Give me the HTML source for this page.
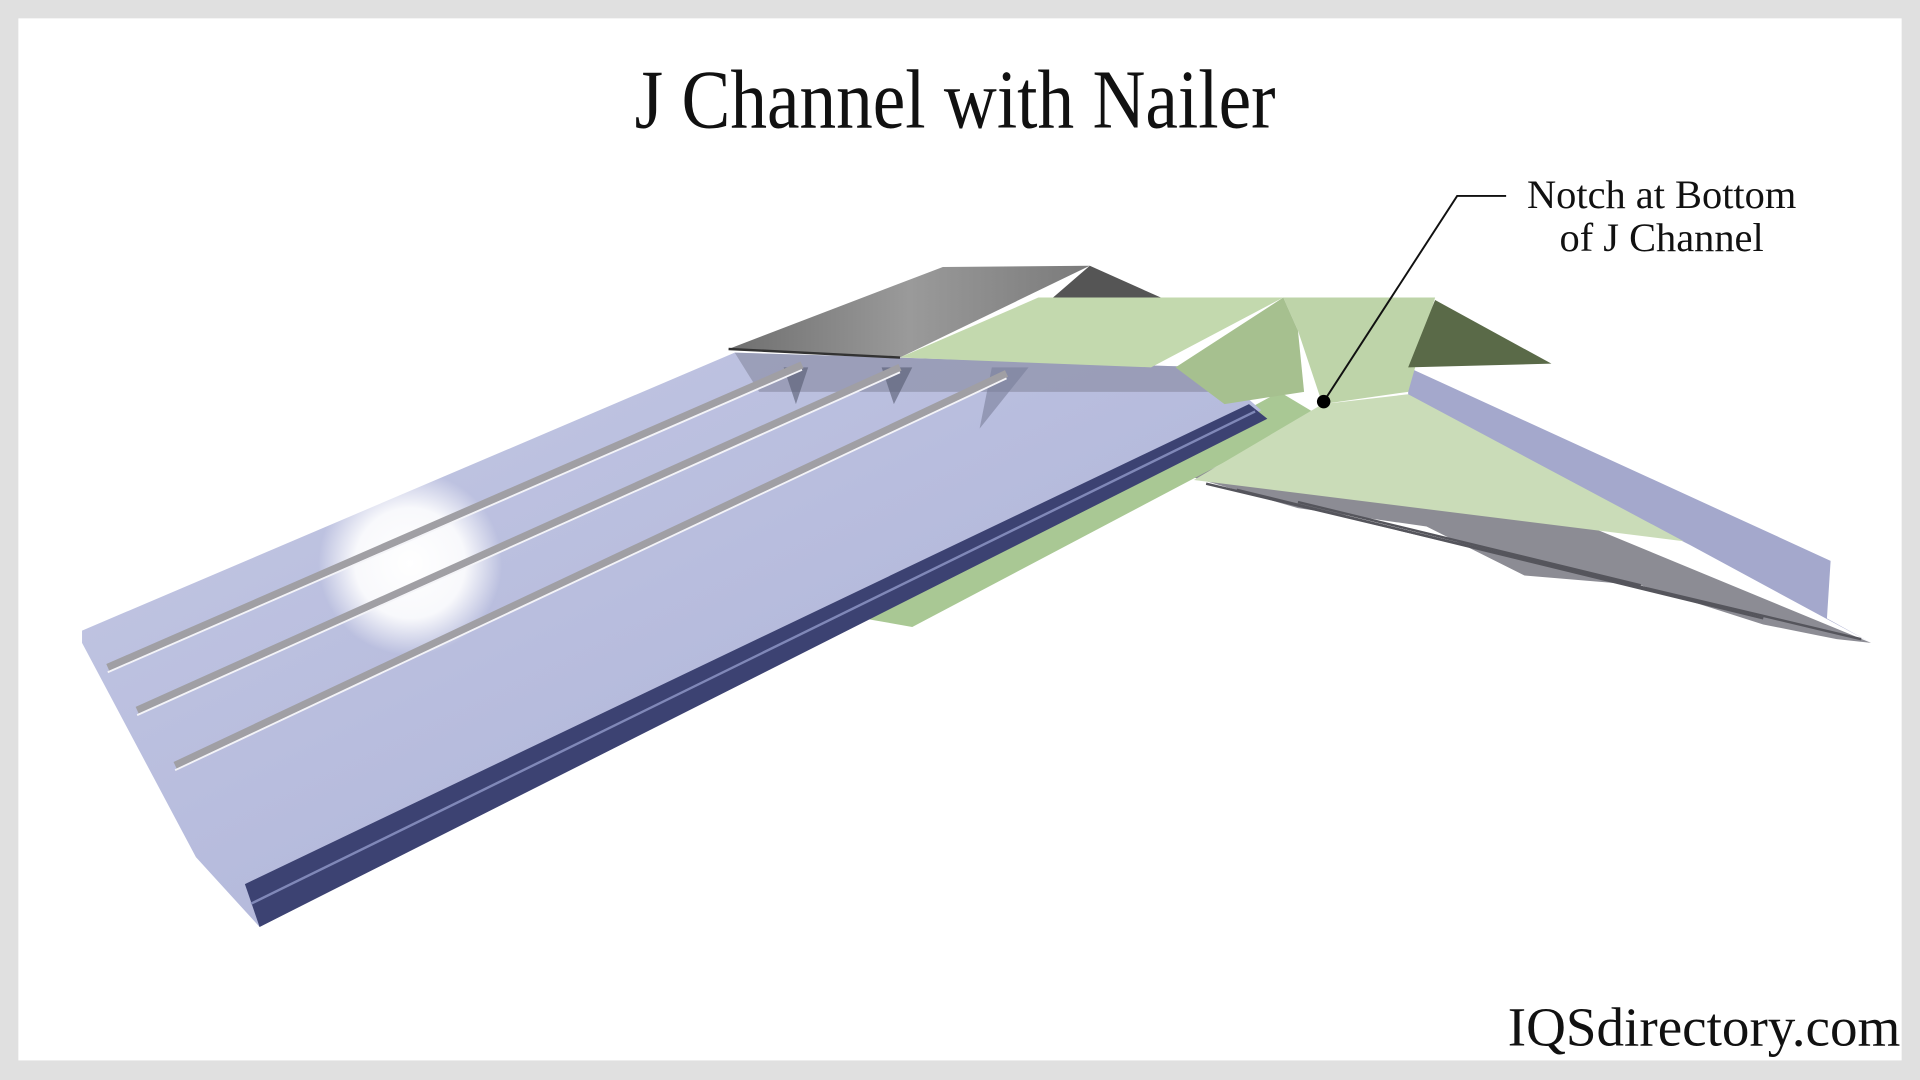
<!DOCTYPE html>
<html><head><meta charset="utf-8"><style>
html,body{margin:0;padding:0;width:1920px;height:1080px;overflow:hidden;background:#e0e0e0}
svg{display:block}
</style></head><body>
<svg width="1920" height="1080" viewBox="0 0 1568 882" preserveAspectRatio="none" xmlns="http://www.w3.org/2000/svg">
<defs>
<linearGradient id="blue" x1="0" y1="0" x2="1" y2="1">
<stop offset="0" stop-color="#c4c8e4"/><stop offset="1" stop-color="#aab0d6"/></linearGradient>
<linearGradient id="cap" x1="0" y1="0" x2="1" y2="0">
<stop offset="0" stop-color="#6f6f6f"/><stop offset="0.5" stop-color="#9a9a9a"/><stop offset="1" stop-color="#7a7a7a"/></linearGradient>
<radialGradient id="hl"><stop offset="0" stop-color="#fff" stop-opacity="1"/><stop offset="0.6" stop-color="#fff" stop-opacity="0.9"/><stop offset="1" stop-color="#fff" stop-opacity="0"/></radialGradient>
</defs>
<rect x="15" y="15" width="1538" height="851" fill="#fff"/>
<text x="780" y="104" text-anchor="middle" font-family="Liberation Serif, serif" font-size="68" fill="#111" transform="translate(780 0) scale(0.88 1) translate(-780 0)">J Channel with Nailer</text>

<!-- right blue panel and ridges -->
<polygon points="1150,300 1495,458 1492,505 1528,525 1380,445 1150,330" fill="#a4a8cc"/>
<polygon points="975,390 1080,340 1528,525 1500,522 1440,510 1340,478 1245,470 1165,430 1060,415" fill="#8c8c94"/>
<g stroke="#55555c" stroke-width="2">
<line x1="985" y1="395" x2="1520" y2="522"/><line x1="1010" y1="400" x2="1440" y2="505"/><line x1="1060" y1="410" x2="1340" y2="478"/>
</g>

<!-- green strip under blue panel -->
<polygon points="705,505 1045,320 1075,338 745,512" fill="#a9c894"/>

<!-- main blue panel -->
<polygon points="67,515 600,288 990,300 1030,335 212,757 160,700 67,525" fill="url(#blue)"/>
<polygon points="600,288 990,300 1000,320 620,320" fill="#8d90a8" opacity="0.7"/>
<polygon points="640,300 660,300 650,330" fill="#555a70" opacity="0.6"/>
<polygon points="720,300 745,300 730,330" fill="#555a70" opacity="0.6"/>
<polygon points="810,300 840,300 800,350" fill="#7a7f9a" opacity="0.6"/>
<circle cx="335" cy="460" r="75" fill="url(#hl)"/>
<g stroke="#a09fa4" stroke-width="6">
<line x1="88" y1="545" x2="655" y2="298"/>
<line x1="112" y1="580" x2="735" y2="300"/>
<line x1="143" y1="625" x2="822" y2="305"/>
</g>
<g stroke="#f4f4f8" stroke-width="1.5">
<line x1="88" y1="549" x2="655" y2="302"/>
<line x1="112" y1="584" x2="735" y2="304"/>
<line x1="143" y1="629" x2="822" y2="309"/>
</g>
<polygon points="200,722 1020,330 1035,342 212,757" fill="#3c4272"/>
<line x1="205" y1="738" x2="1025" y2="336" stroke="#8088b8" stroke-width="2"/>

<!-- gray cap -->
<polygon points="595,285 770,218 890,217 735,292" fill="url(#cap)"/>
<polygon points="890,217 948,243 860,243" fill="#555"/>
<line x1="595" y1="285" x2="735" y2="292" stroke="#333" stroke-width="2"/>

<!-- green J channel -->
<polygon points="735,292 848,243 1048,243 940,300" fill="#c3d9ae"/>
<polygon points="1048,243 1172,243 1150,320 1080,330 1060,270" fill="#bed4a9"/>
<polygon points="1048,243 1060,270 1065,320 1000,330 960,300" fill="#a6c08f"/>
<polygon points="1172,245 1267,297 1150,300" fill="#5a6a48"/>
<polygon points="1080,330 1150,322 1375,442 975,392" fill="#cadcb8"/>

<!-- leader -->
<polyline points="1230,160 1190,160 1081,328" fill="none" stroke="#111" stroke-width="1.6"/>
<circle cx="1081" cy="328" r="5.5" fill="#000"/>
<text x="1357" y="170" text-anchor="middle" font-family="Liberation Serif, serif" font-size="33" fill="#111">Notch at Bottom</text>
<text x="1357" y="205" text-anchor="middle" font-family="Liberation Serif, serif" font-size="33" fill="#111">of J Channel</text>
<text x="1552" y="854" text-anchor="end" font-family="Liberation Serif, serif" font-size="45" fill="#111">IQSdirectory.com</text>
</svg>
</body></html>
